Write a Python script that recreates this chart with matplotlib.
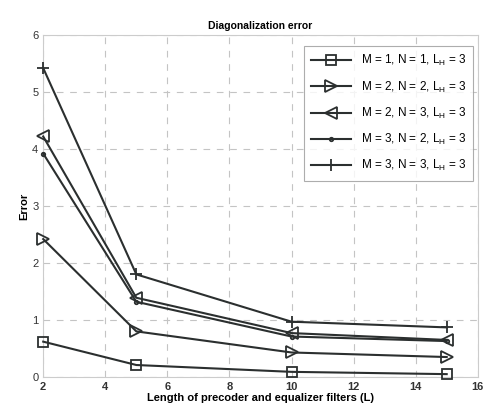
import matplotlib
matplotlib.use("Agg")
matplotlib.rcParams["font.family"] = ["Liberation Sans", "DejaVu Sans"]
import matplotlib.pyplot as plt

L = [2, 5, 10, 15]
err_m1n1 = [0.62, 0.21, 0.09, 0.05]
err_m2n2 = [2.42, 0.80, 0.43, 0.35]
err_m2n3 = [4.22, 1.39, 0.77, 0.65]
err_m3n2 = [3.92, 1.32, 0.71, 0.63]
err_m3n3 = [5.42, 1.80, 0.97, 0.87]
labels = ["M = 1, N = 1, L$_\\mathregular{H}$ = 3", "M = 2, N = 2, L$_\\mathregular{H}$ = 3",
          "M = 2, N = 3, L$_\\mathregular{H}$ = 3", "M = 3, N = 2, L$_\\mathregular{H}$ = 3",
          "M = 3, N = 3, L$_\\mathregular{H}$ = 3"]

col = "#2b2f2f"
fig = plt.figure(figsize=(4.91, 4.12), dpi=100)
ax = fig.add_axes([0.088, 0.085, 0.885, 0.83])

series = [(err_m1n1, "s", 7), (err_m2n2, ">", 8), (err_m2n3, "<", 8),
          (err_m3n2, ".", 5), (err_m3n3, "+", 8)]
for (ys, mk, ms), lab in zip(series, labels):
    ax.plot(L, ys, color=col, marker=mk, markersize=ms, markerfacecolor="none",
            markeredgecolor=col, markeredgewidth=1.3, linewidth=1.5, label=lab,
            clip_on=False, zorder=5)

ax.set_xlim(2, 16)
ax.set_ylim(0, 6)
ax.set_xticks(range(2, 17, 2))
ax.set_yticks(range(0, 7))
ax.grid(True, linestyle=(0, (6, 6)), color="#c4c4c4", linewidth=0.8)
ax.tick_params(labelsize=8, length=0, colors="#333333")
for t in ax.get_xticklabels():
    t.set_fontweight("bold")
for s in ax.spines.values():
    s.set_color("#cccccc")
    s.set_linewidth(0.8)
ax.set_title("Diagonalization error", fontsize=7.5, fontweight="bold", pad=4)
ax.set_xlabel("Length of precoder and equalizer filters (L)", fontsize=8,
              fontweight="bold", labelpad=1)
ax.set_ylabel("Error", fontsize=8, fontweight="bold", labelpad=2)
leg = ax.legend(loc="upper right", fontsize=8.5, frameon=True, fancybox=False,
                edgecolor="#999999", handlelength=3.4, borderpad=0.6,
                labelspacing=0.95, bbox_to_anchor=(1.003, 0.985))
leg.get_frame().set_linewidth(0.8)

fig.savefig("out.png", dpi=100)
